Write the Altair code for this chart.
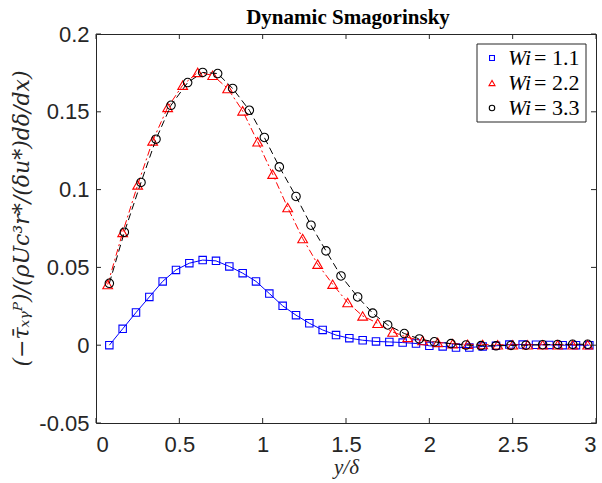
import altair as alt
import pandas as pd

# ---- data ----
blue_x = [0.08, 0.16, 0.24, 0.32, 0.40, 0.48, 0.56, 0.64, 0.72, 0.80, 0.88, 0.96,
          1.04, 1.12, 1.20, 1.28, 1.36, 1.44, 1.52, 1.60, 1.68, 1.76, 1.84, 1.92,
          2.00, 2.08, 2.16, 2.24, 2.32, 2.40, 2.48, 2.56, 2.64, 2.72, 2.80, 2.88, 2.96]
blue_y = [0.0, 0.0105, 0.021, 0.031, 0.041, 0.0484, 0.0527, 0.0547, 0.0542, 0.0506,
          0.0463, 0.041, 0.0332, 0.0253, 0.0193, 0.0141, 0.0098, 0.0065, 0.0045,
          0.0032, 0.0024, 0.0021, 0.0017, 0.0011, -0.0004, -0.0008, -0.0015, -0.0015,
          -0.0008, -0.0004, 0.0004, 0.0004, 0.0003, 0.0002, 0.0, 0.0, 0.0]

red_x = [0.07, 0.16, 0.25, 0.34, 0.43, 0.52, 0.61, 0.70, 0.79, 0.88, 0.97, 1.06,
         1.15, 1.24, 1.33, 1.42, 1.51, 1.60, 1.69, 1.78, 1.87, 1.96, 2.05, 2.14,
         2.23, 2.32, 2.41, 2.50, 2.59, 2.68, 2.77, 2.86, 2.95]
red_y = [0.039, 0.0725, 0.1030, 0.1313, 0.1528, 0.1671, 0.1753, 0.1735, 0.1650,
         0.1506, 0.1307, 0.1099, 0.0885, 0.0686, 0.0521, 0.0392, 0.0274, 0.0188,
         0.0141, 0.0085, 0.0050, 0.0030, 0.0018, 0.0010, 0.0006, 0.0004, 0.0003,
         0.0003, 0.0003, 0.0003, 0.0003, 0.0003, 0.0003]

black_x = [0.08, 0.17, 0.27, 0.36, 0.45, 0.55, 0.64, 0.73, 0.82, 0.92, 1.01, 1.10,
           1.20, 1.29, 1.38, 1.47, 1.57, 1.66, 1.75, 1.85, 1.94, 2.03, 2.13, 2.22,
           2.31, 2.40, 2.49, 2.58, 2.68, 2.77, 2.86, 2.95]
black_y = [0.0398, 0.0726, 0.1046, 0.1324, 0.1542, 0.1688, 0.1753, 0.1746, 0.1650,
           0.1510, 0.1335, 0.1146, 0.0956, 0.0771, 0.0606, 0.0445, 0.0310, 0.0206,
           0.0130, 0.0075, 0.0040, 0.0022, 0.0010, 0.0001, -0.0003, -0.0004, -0.0001,
           0.0, 0.0003, 0.0005, 0.0006, 0.0006]

x_ticks = [0, 0.5, 1, 1.5, 2, 2.5, 3]
y_ticks = [-0.05, 0, 0.05, 0.1, 0.15, 0.2]
series_labels = ["= 1.1", "= 2.2", "= 3.3"]
title_text = "Dynamic Smagorinsky"

W, H = 500, 389
AX = "#262626"

xs = alt.Scale(domain=[0, 3], nice=False, zero=False)
ys = alt.Scale(domain=[-0.05, 0.2], nice=False, zero=False)

x_axis = alt.Axis(values=x_ticks, ticks=False, tickSize=0, domain=False, grid=False,
                  labelFont="Liberation Sans", labelFontSize=22, labelColor=AX,
                  labelPadding=11, labelExpr="format(datum.value, '~g')",
                  title="y/δ", titleFont="Liberation Serif", titleFontStyle="italic",
                  titleFontWeight="normal", titleFontSize=21, titleColor=AX,
                  titleBaseline="alphabetic", titleY=50)
y_axis = alt.Axis(values=y_ticks, ticks=False, tickSize=0, domain=False, grid=False,
                  labelFont="Liberation Sans", labelFontSize=22, labelColor=AX,
                  labelPadding=7,
                  labelExpr="datum.value < 0 ? '-' + format(-datum.value, '~g') : format(datum.value, '~g')",
                  title="(−τ̄ₓᵧᴾ)/(ρUc³r*/(δu*)dδ/dx)", titleFont="DejaVu Serif",
                  titleFontStyle="italic", titleFontWeight="normal", titleFontSize=22,
                  titleColor=AX, titleAngle=270, titleAlign="center",
                  titleBaseline="middle", titleX=-75, titleY=184)


def series(xv, yv, color, shape, size, dash):
    df = pd.DataFrame({"x": xv, "y": yv})
    base = alt.Chart(df)
    line_kw = dict(color=color, strokeWidth=1)
    if dash:
        line_kw["strokeDash"] = dash
    line = base.mark_line(**line_kw).encode(
        x=alt.X("x:Q", scale=xs, axis=x_axis),
        y=alt.Y("y:Q", scale=ys, axis=y_axis))
    pts = base.mark_point(shape=shape, size=size, filled=False, color=color,
                          strokeWidth=1.1, opacity=1).encode(
        x=alt.X("x:Q", scale=xs), y=alt.Y("y:Q", scale=ys))
    return [line, pts]


layers = []
layers += series(blue_x, blue_y, "#0000FF", "square", 55, None)
layers += series(red_x, red_y, "#FF0000", "triangle-up", 95, [7, 3, 2, 3])
layers += series(black_x, black_y, "#000000", "circle", 72, [7, 4])

# inward ticks on all four sides
xt = alt.Chart(pd.DataFrame({"t": x_ticks}))
yt = alt.Chart(pd.DataFrame({"t": y_ticks}))
layers.append(xt.mark_rule(color=AX, strokeWidth=1).encode(
    x=alt.X("t:Q", scale=xs), y=alt.value(H), y2=alt.value(H - 5)))
layers.append(xt.mark_rule(color=AX, strokeWidth=1).encode(
    x=alt.X("t:Q", scale=xs), y=alt.value(0), y2=alt.value(5)))
layers.append(yt.mark_rule(color=AX, strokeWidth=1).encode(
    y=alt.Y("t:Q", scale=ys), x=alt.value(0), x2=alt.value(5)))
layers.append(yt.mark_rule(color=AX, strokeWidth=1).encode(
    y=alt.Y("t:Q", scale=ys), x=alt.value(W), x2=alt.value(W - 5)))

one = alt.Chart(pd.DataFrame({"k": [0]}))

# title as a text mark above the plot area
layers.append(one.mark_text(text=title_text, font="Liberation Serif", fontSize=21,
                            fontWeight="bold", align="center", baseline="alphabetic",
                            color="black").encode(
    x=alt.value(252), y=alt.value(-10)))

# legend (drawn manually so "Wi" can be italic)
layers.append(one.mark_rect(fill="white", stroke=AX, strokeWidth=1).encode(
    x=alt.value(381), x2=alt.value(490), y=alt.value(10), y2=alt.value(88)))
leg_rows = [("#0000FF", "square", 24, 24), ("#FF0000", "triangle-up", 36, 49),
            ("#000000", "circle", 30, 74)]
for (col, shp, sz, yy), lab in zip(leg_rows, series_labels):
    layers.append(one.mark_point(shape=shp, size=sz, filled=False, color=col,
                                 strokeWidth=1.1, opacity=1).encode(
        x=alt.value(396), y=alt.value(yy)))
    layers.append(one.mark_text(text="Wi", font="Liberation Serif", fontStyle="italic",
                                fontSize=22, align="left", baseline="middle",
                                color="black").encode(
        x=alt.value(412), y=alt.value(yy)))
    layers.append(one.mark_text(text=lab, font="Liberation Serif", fontSize=22,
                                align="left", baseline="middle", color="black").encode(
        x=alt.value(438), y=alt.value(yy)))

chart = alt.layer(*layers).properties(
    width=W, height=H,
).configure(
    autosize=alt.AutoSizeParams(type="none"),
    padding={"left": 96, "top": 34, "right": 6, "bottom": 60},
    background="white",
).configure_view(stroke=AX, strokeWidth=1)

chart.save("out.html", embed_options={"renderer": "svg", "actions": False})
